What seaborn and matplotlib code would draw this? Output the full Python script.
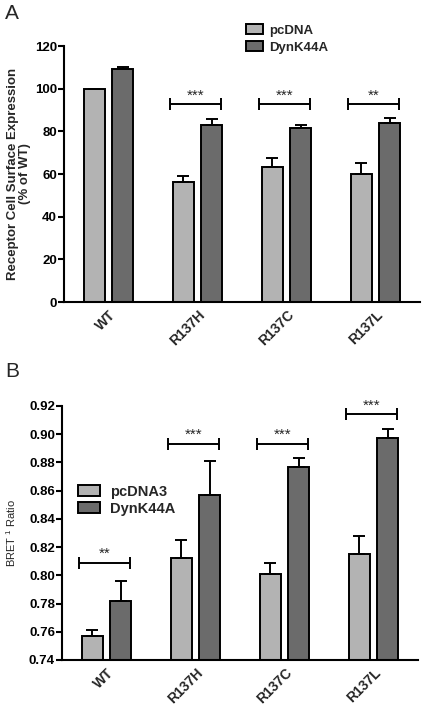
import matplotlib
matplotlib.use('Agg')
import matplotlib.pyplot as plt
import seaborn as sns
import pandas as pd
import numpy as np

# Datos del panel A (expresión en superficie, % de WT)
categories = ['WT', 'R137H', 'R137C', 'R137L']
groups_a = ['pcDNA', 'DynK44A']
a_pcdna = [100.0, 56.3, 63.3, 60.0]
a_pcdna_err = [0.0, 2.7, 4.0, 5.3]
a_dyn = [109.0, 82.9, 81.8, 84.0]
a_dyn_err = [1.4, 2.7, 1.4, 2.3]
sig_a_groups = ['R137H', 'R137C', 'R137L']
sig_a_labels = ['***', '***', '**']
sig_a_y = [92.6, 92.6, 92.6]

# Datos del panel B (BRET1 ratio)
groups_b = ['pcDNA3', 'DynK44A']
b_pcdna = [0.757, 0.812, 0.801, 0.815]
b_pcdna_err = [0.004, 0.013, 0.008, 0.013]
b_dyn = [0.782, 0.857, 0.877, 0.897]
b_dyn_err = [0.014, 0.024, 0.006, 0.007]
sig_b_groups = ['WT', 'R137H', 'R137C', 'R137L']
sig_b_labels = ['**', '***', '***', '***']
sig_b_y = [0.809, 0.893, 0.893, 0.914]

colors = ['#b3b3b3', '#6b6b6b']

sns.set_theme(style='ticks')
plt.rcParams['font.family'] = ['Liberation Sans', 'DejaVu Sans']
plt.rcParams['font.weight'] = 'bold'
plt.rcParams['mathtext.default'] = 'regular'

fig = plt.figure(figsize=(4.25, 7.06), dpi=100)
ax_a = fig.add_axes([0.1506, 0.5722, 0.8376, 0.3626])
ax_b = fig.add_axes([0.1459, 0.0652, 0.8376, 0.3598])


def draw_panel(ax, groups, v1, e1, v2, e2, sig_groups, sig_labels, sig_y):
    df = pd.DataFrame({
        'cat': categories * 2,
        'grp': [groups[0]] * len(categories) + [groups[1]] * len(categories),
        'val': v1 + v2,
    })
    sns.barplot(data=df, x='cat', y='val', hue='grp', order=categories,
                hue_order=groups, palette=colors, errorbar=None,
                width=0.63, gap=0.22, edgecolor='black', linewidth=1.4,
                saturation=1, ax=ax)
    errs = [e1, e2]
    for cont, err in zip(ax.containers, errs):
        xs = [b.get_x() + b.get_width() / 2 for b in cont]
        ys = [b.get_height() for b in cont]
        ax.errorbar(xs, ys, yerr=[np.zeros(len(err)), err], fmt='none',
                    ecolor='black', elinewidth=1.4, capsize=4.5,
                    capthick=1.4, zorder=1)
    left_bars = ax.containers[0]
    right_bars = ax.containers[1]
    for g, lab, y in zip(sig_groups, sig_labels, sig_y):
        i = categories.index(g)
        x0 = left_bars[i].get_x() - 0.03
        x1 = right_bars[i].get_x() + right_bars[i].get_width() - 0.02
        ax.plot([x0, x1], [y, y], color='black', lw=1.4, marker='|',
                markersize=8, markeredgewidth=1.4, solid_capstyle='butt')
        ax.annotate(lab, ((x0 + x1) / 2, y), xytext=(0, 1.5),
                    textcoords='offset points', ha='center', va='bottom',
                    fontsize=11, fontweight='normal')
    ax.set_xlim(-0.5, 3.5)
    ax.set_xlabel('')
    sns.despine(ax=ax)
    for s in ['left', 'bottom']:
        ax.spines[s].set_linewidth(1.5)
        ax.spines[s].set_color('black')
    ax.tick_params(axis='y', length=4, width=1.5, labelsize=9.5, pad=1,
                   colors='black')
    ax.tick_params(axis='x', length=0, pad=4, labelsize=10)
    for t in ax.get_xticklabels():
        t.set_rotation(45)
        t.set_ha('right')
        t.set_va('top')
        t.set_rotation_mode('anchor')
        t.set_fontweight('bold')
    for t in ax.get_yticklabels():
        t.set_fontweight('bold')


draw_panel(ax_a, groups_a, a_pcdna, a_pcdna_err, a_dyn, a_dyn_err,
           sig_a_groups, sig_a_labels, sig_a_y)
ax_a.set_ylim(0, 120)
ax_a.set_yticks([0, 20, 40, 60, 80, 100, 120])
ax_a.set_ylabel('Receptor Cell Surface Expression\n(% of WT)',
                fontsize=9.5, fontweight='bold', labelpad=3,
                linespacing=1.0)
ax_a.legend(loc='upper left', bbox_to_anchor=(0.51, 1.085), frameon=False,
            borderpad=0, borderaxespad=0, handlelength=1.3,
            handleheight=0.75, handletextpad=0.5, labelspacing=0.35,
            prop={'weight': 'bold', 'size': 9.5})

draw_panel(ax_b, groups_b, b_pcdna, b_pcdna_err, b_dyn, b_dyn_err,
           sig_b_groups, sig_b_labels, sig_b_y)
ax_b.set_ylim(0.74, 0.92)
ax_b.set_yticks(np.arange(0.74, 0.9201, 0.02))
ax_b.set_yticklabels([f'{v:.2f}' for v in np.arange(0.74, 0.9201, 0.02)],
                     fontweight='bold')
ax_b.set_ylabel('BRET $^1$ Ratio', fontsize=8, fontweight='normal',
                labelpad=8)
ax_b.legend(loc='upper left', bbox_to_anchor=(0.045, 0.69), frameon=False,
            borderpad=0, borderaxespad=0, handlelength=1.5,
            handleheight=0.8, handletextpad=0.7, labelspacing=0.2,
            prop={'weight': 'bold', 'size': 10.5})

fig.text(0.012, 0.995, 'A', fontsize=15, fontweight='normal', va='top')
fig.text(0.012, 0.487, 'B', fontsize=15, fontweight='normal', va='top')

fig.savefig('out.png', dpi=100)
plt.close(fig)
